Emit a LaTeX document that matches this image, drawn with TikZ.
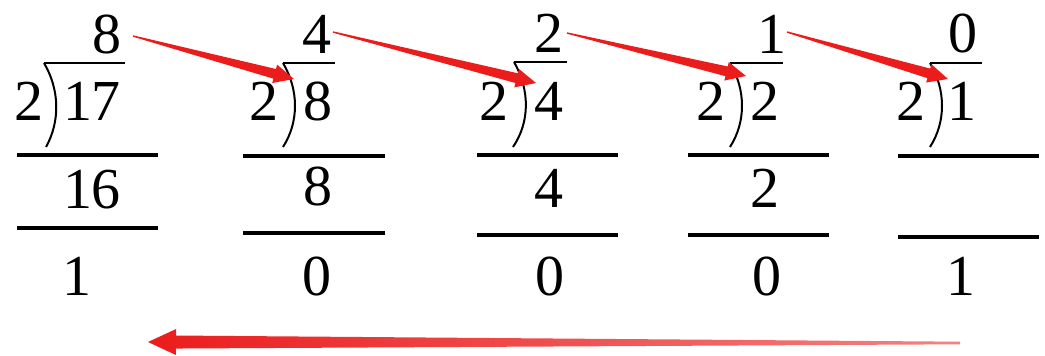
\documentclass[tikz,border=0pt]{standalone}
\usepackage{fontspec}
\setmainfont{Liberation Serif}
\newfontfamily\digfont{Liberation Serif}
\usetikzlibrary{calc}
\definecolor{arrowred}{RGB}{235,28,28}
% #1 style, #2 tail, #3 tip, #4 tail half width, #5 shaft half width, #6 head half width, #7 head length
\newcommand\taperarrow[7]{%
  \path ($(#3)!#7!(#2)$) coordinate (tbase);
  \path[#1] ($(#2)!#4!90:(#3)$) -- ($(tbase)!#5!90:(#3)$) -- ($(tbase)!#6!90:(#3)$) -- (#3)
    -- ($(tbase)!#6!-90:(#3)$) -- ($(tbase)!#5!-90:(#3)$) -- ($(#2)!#4!-90:(#3)$) -- cycle;%
}
\begin{document}
\begin{tikzpicture}[x=1pt,y=-1pt,
  dig/.style={font=\digfont\fontsize{58}{58}\selectfont, inner sep=0pt, anchor=base},
  rulel/.style={line width=3.2pt},
  vinc/.style={line width=2.2pt},
  brk/.style={line width=2pt},
  redfill/.style={fill=arrowred},
  redshade/.style={left color=arrowred, right color=arrowred!55}]
\useasboundingbox (0,0) rectangle (1045,356);

% quotients
\node[dig] (q1) at (107,53) {8};
\node[dig] (q2) at (317,53) {4};
\node[dig] (q3) at (549,52) {2};
\node[dig] (q4) at (772,53) {1};
\node[dig] (q5) at (963,52) {0};
% divisors
\node[dig] (d1) at (29,120) {2};
\node[dig] (d2) at (264,120) {2};
\node[dig] (d3) at (494,120) {2};
\node[dig] (d4) at (711,120) {2};
\node[dig] (d5) at (911,120) {2};
% dividends
\node[dig] (n1) at (92,120) {17};
\node[dig] (n2) at (318,120) {8};
\node[dig] (n3) at (549,120) {4};
\node[dig] (n4) at (765,120) {2};
\node[dig] (n5) at (962,120) {1};
% products
\node[dig] (p1) at (92,208) {16};
\node[dig] (p2) at (318,205) {8};
\node[dig] (p3) at (549,207) {4};
\node[dig] (p4) at (765,207) {2};
% remainders
\node[dig] (r1) at (77,295) {1};
\node[dig] (r2) at (317,295) {0};
\node[dig] (r3) at (550,295) {0};
\node[dig] (r4) at (767,295) {0};
\node[dig] (r5) at (961,295) {1};

% vincula and brackets
\draw[vinc] (44,63) -- (125,63);
\draw[brk] (44,63) .. controls (60,90) and (60,122) .. (46,147);
\draw[vinc] (283,63) -- (335,63);
\draw[brk] (283,63) .. controls (299,90) and (299,122) .. (283,147);
\draw[vinc] (514,62) -- (567,62);
\draw[brk] (514,62) .. controls (530,90) and (530,122) .. (513,147);
\draw[vinc] (730,63) -- (783,63);
\draw[brk] (730,63) .. controls (746,90) and (746,122) .. (730,147);
\draw[vinc] (930,63) -- (982,63);
\draw[brk] (930,63) .. controls (946,90) and (946,122) .. (930,147);

% subtraction rules
\draw[rulel] (17,155) -- (158,155);
\draw[rulel] (17,228) -- (158,228);
\draw[rulel] (243,156) -- (385,156);
\draw[rulel] (243,233) -- (385,233);
\draw[rulel] (477,155) -- (618,155);
\draw[rulel] (477,235) -- (618,235);
\draw[rulel] (688,155) -- (829,155);
\draw[rulel] (688,235) -- (829,235);
\draw[rulel] (898,156) -- (1039,156);
\draw[rulel] (898,237) -- (1039,237);

% arrow end points
\coordinate (t1) at (133,36);  \coordinate (h1) at (294,79);
\coordinate (t2) at (333,32);  \coordinate (h2) at (536,83);
\coordinate (t3) at (567,33);  \coordinate (h3) at (746,76);
\coordinate (t4) at (787,32);  \coordinate (h4) at (948,79);
\coordinate (bt) at (960,343); \coordinate (bh) at (148,342);

\taperarrow{redfill}{t1}{h1}{0.7pt}{5pt}{9.5pt}{20pt}
\taperarrow{redfill}{t2}{h2}{0.7pt}{5pt}{9.5pt}{20pt}
\taperarrow{redfill}{t3}{h3}{0.7pt}{5pt}{9.5pt}{20pt}
\taperarrow{redfill}{t4}{h4}{0.7pt}{5pt}{9.5pt}{20pt}
\taperarrow{redshade}{bt}{bh}{1.3pt}{6.5pt}{13pt}{28pt}
\end{tikzpicture}
\end{document}
